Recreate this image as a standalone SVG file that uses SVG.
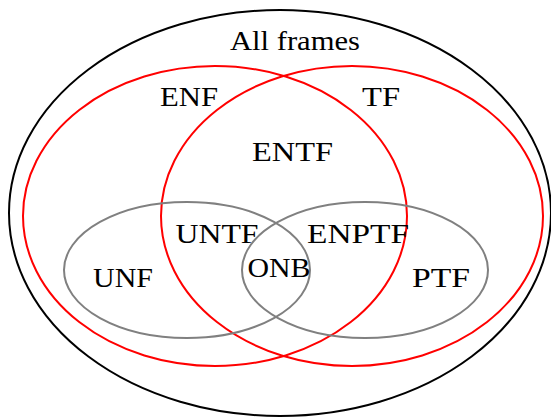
<svg xmlns="http://www.w3.org/2000/svg" width="551" height="417" viewBox="0 0 551 417">
  <style>
    .set { fill: none; stroke-width: 2; }
    .all { stroke: #000000; }
    .red { stroke: #ff0000; }
    .grey { stroke: #808080; }
    text { font-family: "Liberation Serif", "DejaVu Serif", serif; font-size: 28px; fill: #000000; text-anchor: middle; }
  </style>
  <rect width="551" height="417" fill="#ffffff"/>
  <g id="all-frames">
    <ellipse class="set all" cx="280" cy="213" rx="271" ry="203"/>
    <text x="295" y="50" textLength="130" lengthAdjust="spacingAndGlyphs">All frames</text>
  </g>
  <g id="enf">
    <ellipse class="set red" cx="215" cy="216" rx="192" ry="150"/>
    <text x="189" y="106" textLength="58" lengthAdjust="spacingAndGlyphs">ENF</text>
  </g>
  <g id="tf">
    <ellipse class="set red" cx="352" cy="216" rx="191" ry="150"/>
    <text x="381" y="106" textLength="38" lengthAdjust="spacingAndGlyphs">TF</text>
  </g>
  <g id="unf">
    <ellipse class="set grey" cx="187" cy="270" rx="123" ry="68"/>
    <text x="123" y="287" textLength="60" lengthAdjust="spacingAndGlyphs">UNF</text>
  </g>
  <g id="ptf">
    <ellipse class="set grey" cx="365" cy="270" rx="123" ry="68"/>
    <text x="441" y="287" textLength="58" lengthAdjust="spacingAndGlyphs">PTF</text>
  </g>
  <g id="entf">
    <text x="292.5" y="161" textLength="81" lengthAdjust="spacingAndGlyphs">ENTF</text>
  </g>
  <g id="untf">
    <text x="217" y="243" textLength="83" lengthAdjust="spacingAndGlyphs">UNTF</text>
  </g>
  <g id="enptf">
    <text x="358" y="243" textLength="102" lengthAdjust="spacingAndGlyphs">ENPTF</text>
  </g>
  <g id="onb">
    <text x="279" y="277" textLength="63" lengthAdjust="spacingAndGlyphs">ONB</text>
  </g>
</svg>
